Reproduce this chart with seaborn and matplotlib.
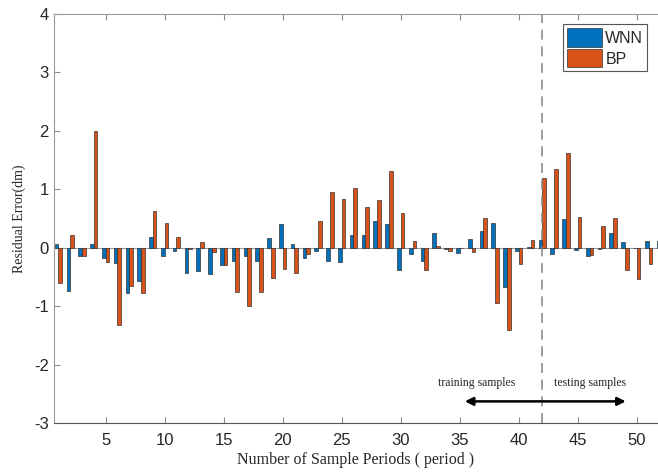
import numpy as np
import pandas as pd
import matplotlib
matplotlib.use('Agg')
import matplotlib.pyplot as plt
import seaborn as sns

# Residual errors (periods 1..52)
periods = list(range(1, 53))
wnn = [0.07, -0.74, -0.15, 0.06, -0.17, -0.26, -0.77, -0.57, 0.19, -0.15,
       -0.05, -0.43, -0.40, -0.45, -0.30, -0.23, -0.14, -0.22, 0.17, 0.40,
       0.07, -0.17, -0.06, -0.23, -0.25, 0.21, 0.21, 0.46, 0.40, -0.38,
       -0.11, -0.22, 0.26, -0.03, -0.09, 0.15, 0.29, 0.42, -0.67, -0.06,
       0.02, 0.13, -0.11, 0.49, -0.04, -0.15, -0.03, 0.26, 0.09, 0.0,
       0.12, 0.12]
bp = [-0.60, 0.21, -0.14, 2.00, -0.24, -1.32, -0.66, -0.77, 0.63, 0.42,
      0.19, -0.03, 0.09, -0.07, -0.29, -0.76, -1.00, -0.75, -0.51, -0.37,
      -0.44, -0.10, 0.46, 0.96, 0.83, 1.03, 0.70, 0.82, 1.32, 0.60,
      0.12, -0.39, 0.03, -0.05, -0.01, -0.08, 0.50, -0.94, -1.40, -0.28,
      0.14, 1.19, 1.35, 1.62, 0.52, -0.12, 0.37, 0.51, -0.39, -0.54,
      -0.28, -0.28]
models = ['WNN', 'BP']
colors = ['#0072BD', '#D95319']
y_ticks = [-3, -2, -1, 0, 1, 2, 3, 4]
x_ticks = [5, 10, 15, 20, 25, 30, 35, 40, 45, 50]
split_period = 42

df = pd.DataFrame({
    'period': periods * 2,
    'value': wnn + bp,
    'model': ['WNN'] * len(wnn) + ['BP'] * len(bp),
})

sns.set_style('white')
plt.rcParams['font.family'] = ['Liberation Sans', 'DejaVu Sans']
plt.rcParams['axes.unicode_minus'] = False

fig = plt.figure(figsize=(6.58, 4.74), dpi=100)
ax = fig.add_axes([0.0816, 0.1076, 0.9184, 0.8629])

sns.barplot(data=df, x='period', y='value', hue='model', hue_order=models,
            palette=colors, saturation=1, native_scale=True, width=0.62,
            edgecolor='#333333', linewidth=0.5, ax=ax)

# baseline and train/test split
ax.axhline(0, color='#9a9a9a', lw=0.8, zorder=0)
ax.axvline(split_period, color='#8c8c8c', lw=1.2, ls=(0, (6, 4)))

ax.set_xlim(0.6, 51.8)
ax.set_ylim(-3, 4)
ax.set_xticks(x_ticks)
ax.set_yticks(y_ticks)
ax.tick_params(direction='in', length=4, labelsize=12, colors='#8c8c8c',
               labelcolor='#262626', top=True, bottom=True, left=True)
ax.tick_params(axis='x', pad=7)

for side in ['left', 'top']:
    ax.spines[side].set_color('#9a9a9a')
ax.spines['bottom'].set_color('#555555')
ax.spines['right'].set_visible(False)

ax.set_xlabel('Number of Sample Periods ( period )', family='Liberation Serif',
              fontsize=11.5, labelpad=3)
ax.set_ylabel('Residual Error(dm)', family='Liberation Serif', fontsize=10,
              labelpad=6)

# annotations for training / testing samples
ax.text(39.7, -2.32, 'training samples', family='Liberation Serif',
        fontsize=8.5, ha='right', va='center')
ax.text(43.0, -2.32, 'testing samples', family='Liberation Serif',
        fontsize=8.5, ha='left', va='center')
ax.annotate('', xy=(35.2, -2.63), xytext=(49.3, -2.63),
            arrowprops=dict(arrowstyle='<|-|>', color='black', lw=1.8,
                            mutation_scale=12))

leg = ax.legend(loc='upper right', bbox_to_anchor=(0.982, 0.975),
                fancybox=False, edgecolor='#555555', framealpha=1,
                fontsize=11.5, handlelength=2.2, handleheight=1.4,
                handletextpad=0.2, borderpad=0.25, labelspacing=0.15,
                borderaxespad=0)
leg.get_frame().set_linewidth(0.8)

plt.savefig('out.png', dpi=100)
